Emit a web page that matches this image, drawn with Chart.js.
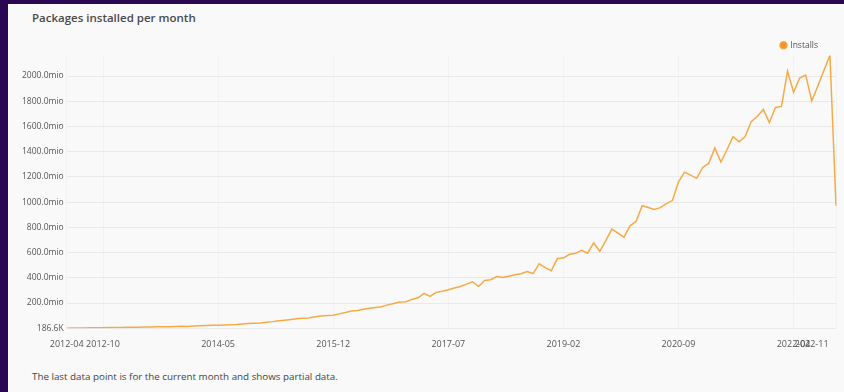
<!DOCTYPE html>
<html>
<head>
<meta charset="utf-8">
<script src="https://cdn.jsdelivr.net/npm/chart.js@4.4.0/dist/chart.umd.min.js"></script>
<style>
  html, body { margin: 0; padding: 0; }
  body { width: 844px; height: 392px; background: #2a0752; overflow: hidden; position: relative; font-family: 'Open Sans', sans-serif; }
  .card { position: absolute; left: 8px; top: 4px; right: 0; bottom: 0; background: #f9f9f9; }
  h3 { position: absolute; left: 32px; top: 10px; margin: 0; font-size: 11.5px; font-weight: 600; color: #4a4a4a; }
  .wrap { position: absolute; left: 8px; top: 23px; width: 888px; height: 338px; }
  p { position: absolute; left: 32px; top: 370px; margin: 0; font-size: 9.8px; color: #444; }
</style>
</head>
<body>
<div class="card"></div>
<h3>Packages installed per month</h3>
<div class="wrap"><canvas id="installsChart"></canvas></div>
<p>The last data point is for the current month and shows partial data.</p>

<script>
// months on the x axis (data starts 2012-04)
const startYear = 2012, startMonth = 4, monthCount = 128;
const months = [];
for (let i = 0; i < monthCount; i++) {
    let m = startMonth - 1 + i;
    months.push((startYear + Math.floor(m / 12)) + '-' + String(m % 12 + 1).padStart(2, '0'));
}

// labels printed under the axis
const tickLabels = ['2012-04', '2012-10', '2014-05', '2015-12', '2017-07', '2019-02', '2020-09', '2022-04', '2022-11'];

// y axis ticks, in millions (first one is the data minimum)
const yTicks = [0.1866, 200, 400, 600, 800, 1000, 1200, 1400, 1600, 1800, 2000];

// installs per month, in millions
const installs = [
    0.1866, 1.1, 1.6, 2.3, 2.9, 3.4, 4.2, 4.9, 5.1, 6.3,
    6.9, 7.8, 8.4, 9.2, 9.6, 10.8, 11.3, 12.6, 14.1, 15.0,
    14.6, 17.4, 18.9, 21.3, 22.8, 24.1, 25.9, 28.4, 29.7, 33.5,
    37.9, 40.2, 41.8, 47.6, 52.3, 60.1, 63.8, 68.5, 74.2, 79.6,
    81.3, 90.4, 97.8, 100.5, 103.2, 113.9, 124.6, 136.8, 141.2, 150.7,
    158.3, 164.1, 170.5, 185.2, 196.8, 207.3, 210.1, 228.6, 241.7, 276.4,
    252.9, 284.3, 293.5, 305.2, 318.7, 331.4, 349.8, 368.5, 331.2, 378.6,
    385.1, 410.3, 401.7, 412.5, 424.9, 432.6, 449.8, 433.5, 510.3, 480.2,
    455.7, 552.4, 556.8, 586.3, 594.1, 618.5, 595.2, 676.4, 609.8, 695.3,
    786.5, 755.2, 722.4, 812.3, 848.6, 971.5, 958.2, 941.3, 956.7, 988.4,
    1012.6, 1160.3, 1238.1, 1214.5, 1189.2, 1275.6, 1309.4, 1430.2, 1318.7, 1415.3,
    1519.4, 1478.2, 1520.6, 1638.5, 1679.3, 1735.1, 1630.4, 1750.6, 1759.2, 2040.1,
    1871.3, 1984.6, 2008.2, 1801.5, 1921.4, 2043.7, 2163.2, 972.4
];

function formatInstalls(v) {
    if (v < 1) return (v * 1000).toFixed(1) + 'K';
    return v.toFixed(1) + 'mio';
}

// pull the legend closer to the plot
const legendFit = {
    id: 'legendFit',
    beforeInit(chart) {
        const fit = chart.legend.fit;
        chart.legend.fit = function () {
            fit.call(this);
            this.height -= 4;
        };
    }
};

let ctx = document.getElementById('installsChart');
let installsChart = new Chart(ctx, {
    type: 'line',
    data: {
        labels: months,
        datasets: [{
            label: 'Installs',
            data: installs,
            borderColor: '#f5aa45',
            backgroundColor: '#f7931e',
            borderWidth: 1.5,
            pointRadius: 0,
            tension: 0,
            fill: false
        }]
    },
    plugins: [legendFit],
    options: {
        responsive: true,
        maintainAspectRatio: false,
        animation: false,
        layout: {
            padding: { left: 11, right: 60, top: 0, bottom: 0 }
        },
        plugins: {
            legend: {
                position: 'top',
                align: 'end',
                labels: {
                    usePointStyle: true,
                    pointStyle: 'circle',
                    boxWidth: 5,
                    boxHeight: 5,
                    padding: 18,
                    color: '#555',
                    font: { family: 'Open Sans', size: 8.5 }
                }
            },
            tooltip: { enabled: false }
        },
        scales: {
            x: {
                border: { display: false },
                grid: { drawTicks: false, color: '#f2f2f2' },
                ticks: {
                    autoSkip: false,
                    maxRotation: 0,
                    minRotation: 0,
                    padding: 11,
                    color: '#555',
                    font: { family: 'Open Sans', size: 9 },
                    callback: function (val, idx) {
                        const m = months[idx];
                        if (!tickLabels.includes(m)) return null;
                        // last label sits against the right edge
                        return idx === months.length - 1 ? m + '\u2007\u2007\u2007\u2007\u2007\u2007\u2007\u2007\u2007\u2008' : m;
                    }
                }
            },
            y: {
                min: Math.min(...installs),
                max: Math.max(...installs),
                border: { display: false },
                grid: { drawTicks: false, color: '#e9e9e9' },
                afterBuildTicks: function (scale) {
                    scale.ticks = yTicks.map(v => ({ value: v }));
                },
                ticks: {
                    padding: 3,
                    color: '#555',
                    font: { family: 'Open Sans', size: 8.5 },
                    callback: function (v) {
                        return formatInstalls(v);
                    }
                }
            }
        }
    }
});
</script>
</body>
</html>
